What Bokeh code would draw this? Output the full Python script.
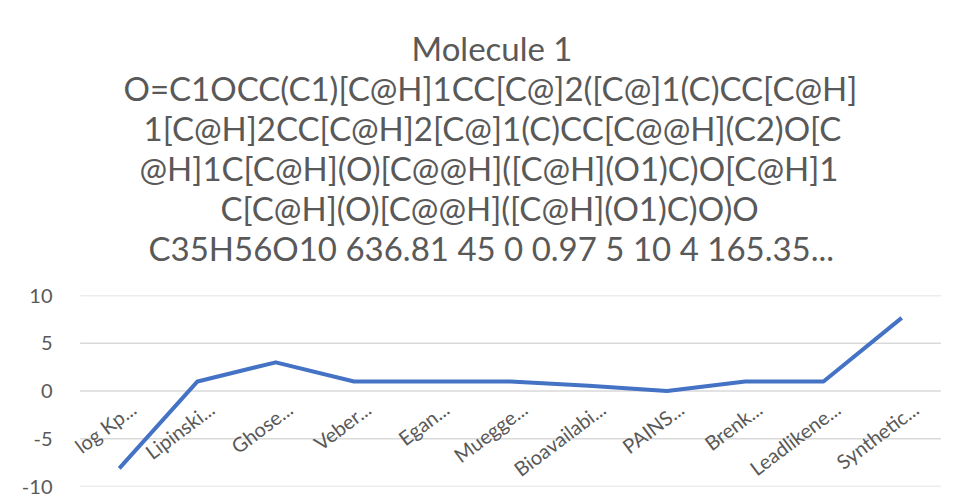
import math
from bokeh.plotting import figure
from bokeh.models import (FixedTicker, Range1d, FactorRange, Title, PrintfTickFormatter,
                          LabelSet, ColumnDataSource)
from bokeh.transform import dodge
from bokeh.core.properties import value
from bokeh.embed import file_html
from bokeh.resources import INLINE

categories = ["log Kp...", "Lipinski...", "Ghose...", "Veber...", "Egan...", "Muegge...",
              "Bioavailabi...", "PAINS...", "Brenk...", "Leadlikene...", "Synthetic..."]
values = [-8.1, 1, 3, 1, 1, 1, 0.55, 0, 1, 1, 7.66]
y_ticks = [-10, -5, 0, 5, 10]
title_lines = [
    "Molecule 1",
    "O=C1OCC(C1)[C@H]1CC[C@]2([C@]1(C)CC[C@H]",
    "1[C@H]2CC[C@H]2[C@]1(C)CC[C@@H](C2)O[C",
    "@H]1C[C@H](O)[C@@H]([C@H](O1)C)O[C@H]1",
    "C[C@H](O)[C@@H]([C@H](O1)C)O)O",
    "C35H56O10 636.81 45 0 0.97 5 10 4 165.35...",
]
# left offsets (px from plot-area left) that centre each title line
title_offsets = [347, 59, 79, 75, 156, 84]

FONT = "Lato"
GRAY = "#595959"

p = figure(width=957, height=503, output_backend="svg", toolbar_location=None,
           x_range=FactorRange(*categories, range_padding=0.2, range_padding_units="absolute"),
           y_range=Range1d(-10, 10),
           x_axis_location=None, title=None,
           min_border_left=64, min_border_right=1, min_border_bottom=17, min_border_top=295)

# spacer between title block and plot area
p.add_layout(Title(text=" ", text_font=FONT, text_font_size="22px", standoff=0), "above")
for line, off in zip(reversed(title_lines), reversed(title_offsets)):
    t = Title(text=line, align="left", offset=off, text_font=FONT, text_font_size="33px",
              text_font_style="normal", text_color=GRAY, standoff=-2)
    p.add_layout(t, "above")

p.outline_line_color = None
p.xgrid.grid_line_color = None
p.ygrid.grid_line_color = None

# horizontal gridlines spanning the category bands only
n = len(y_ticks)
grid_src = ColumnDataSource(dict(x0=[categories[0]] * n, x1=[categories[-1]] * n, y=y_ticks))
p.segment(x0=dodge("x0", -0.5, range=p.x_range), x1=dodge("x1", 0.5, range=p.x_range),
          y0="y", y1="y", source=grid_src, line_color="#d9d9d9", line_width=1.5)

p.yaxis.ticker = FixedTicker(ticks=y_ticks)
p.yaxis.formatter = PrintfTickFormatter(format="%d")
p.yaxis.axis_line_color = None
p.yaxis.major_tick_line_color = None
p.yaxis.minor_tick_line_color = None
p.yaxis.major_label_text_font = FONT
p.yaxis.major_label_text_font_size = "20px"
p.yaxis.major_label_text_color = GRAY
p.yaxis.major_label_standoff = 6

p.line(x=categories, y=values, line_color="#4472C4", line_width=4, line_join="round")

src = ColumnDataSource(dict(x=categories, y=[0] * len(categories), text=categories))
labels = LabelSet(x="x", y="y", text="text", source=src, angle=math.radians(37),
                  text_align="right", text_baseline="middle", x_offset=14, y_offset=-15,
                  text_font=value(FONT), text_font_size=value("20px"), text_color=value(GRAY))
p.add_layout(labels)

open("out.html", "w").write(file_html(p, INLINE))
